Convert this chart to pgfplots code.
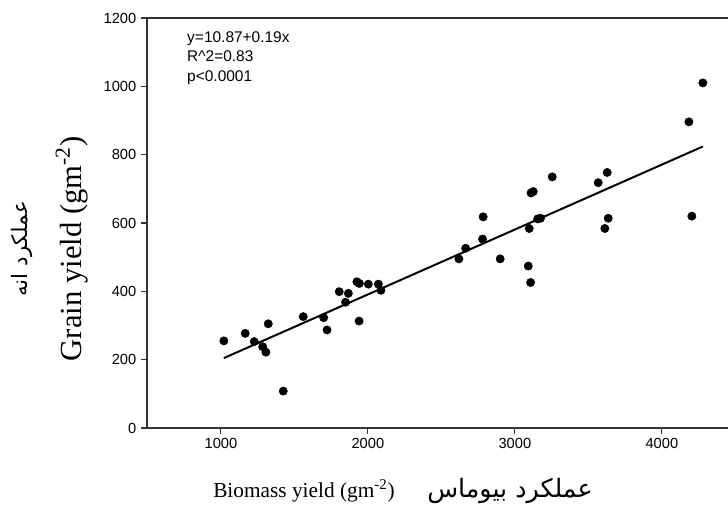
\documentclass[border=0pt]{standalone}
\usepackage{fontspec}
\usepackage{pgfplots}
\usepackage{pgfplotstable}
\pgfplotsset{compat=1.18}
\setmainfont{Liberation Serif}
\newfontfamily\arialfont{Liberation Sans}
\newfontfamily\arabicfont[Script=Arabic]{DejaVu Sans}
\TeXXeTstate=1

% biomass yield vs grain yield (gm^-2)
\pgfplotstableread{
x y
1020 255
1165 277
1227 253
1284 238
1306 222
1322 305
1424 108
1560 326
1699 323
1722 287
1805 399
1848 368
1867 394
1925 428
1942 423
2003 421
1940 313
2071 421
2089 403
2619 495
2665 526
2780 553
2784 618
2900 495
3091 474
3107 426
3098 584
3110 688
3125 692
3155 612
3175 614
3254 735
3567 718
3612 584
3628 748
3635 614
4184 896
4204 620
4279 1010
}\grain

\begin{document}
\begin{tikzpicture}
\path[use as bounding box] (-110.25pt,-68.25pt) rectangle (435.75pt,321pt);
\begin{axis}[
scale only axis,
width=435.75pt, height=307.5pt,
xmin=497, xmax=4450,
ymin=0, ymax=1200,
axis x line=box, axis y line=left,
every non boxed x axis/.append style={x axis line style=-},
every non boxed y axis/.append style={y axis line style=-},
axis line style={-, black!80, line width=0.8pt},
xtick={1000,2000,3000,4000},
ytick={0,200,400,600,800,1000,1200},
xtick pos=left,
tick align=outside,
major tick length=4.5pt,
tick style={black!80, line width=0.8pt},
ticklabel style={font=\arialfont\fontsize{11}{13}\selectfont},
/pgf/number format/assume math mode=true,
/pgf/number format/1000 sep={},
clip=false
]
\addplot[only marks, mark=*, mark size=3.1pt, black] table[x=x, y=y] {\grain};
\addplot[black, line width=1.5pt] table {
1020 204.7
4279 823.9
};

\node[anchor=north west, align=left, inner sep=0pt,
  font=\arialfont\fontsize{11.6}{14.8}\selectfont]
  at (rel axis cs:0.0688,0.968) {y=10.87+0.19x\\R\textasciicircum 2=0.83\\p<0.0001};

\node[rotate=90, anchor=base, inner sep=0pt, font=\fontsize{23}{26}\selectfont]
  at (axis description cs:-0.1119,0.437) {Grain yield (gm\textsuperscript{-2})};
\node[rotate=90, anchor=center, inner sep=0pt, font=\arabicfont\fontsize{16}{18}\selectfont]
  at (axis description cs:-0.2152,0.437) {\beginR عملکرد انه\endR};

\node[anchor=base west, inner sep=0pt, font=\fontsize{16}{18}\selectfont]
  at (axis description cs:0.1136,-0.1707) {Biomass yield (gm\textsuperscript{-2})};
\node[anchor=base west, inner sep=0pt, font=\arabicfont\fontsize{19}{21}\selectfont]
  at (axis description cs:0.4819,-0.1707) {\beginR عملکرد بیوماس\endR};
\end{axis}
\end{tikzpicture}
\end{document}
